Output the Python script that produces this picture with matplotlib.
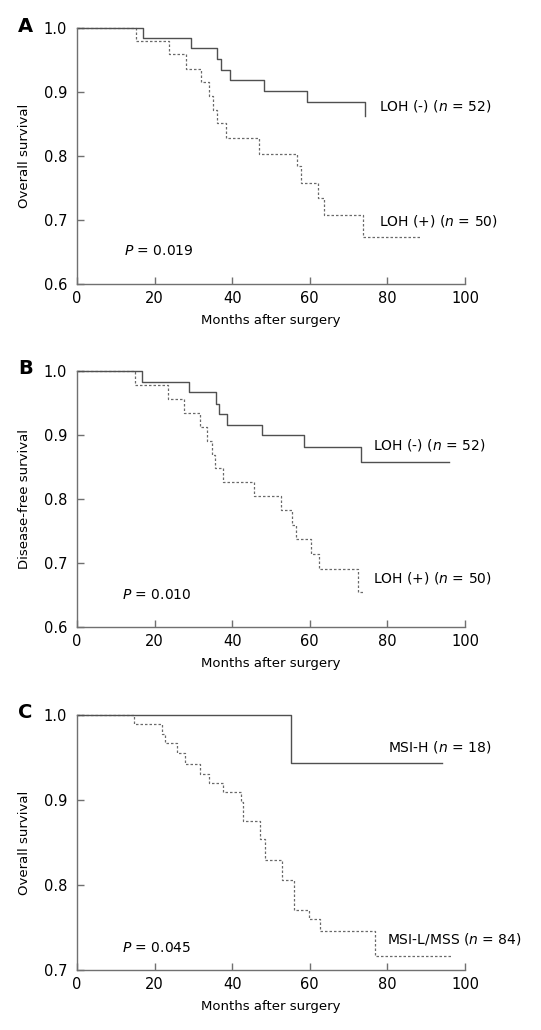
import matplotlib
matplotlib.use("Agg")
import matplotlib.pyplot as plt

# ---- data ----
A_neg_t = [0, 16.9, 29.3, 36.2, 37.2, 39.4, 48.2, 59.2, 74.2]
A_neg_s = [1.0, 0.985, 0.968, 0.951, 0.935, 0.918, 0.902, 0.884, 0.862]
A_pos_t = [0, 15.2, 23.6, 28.1, 31.9, 34.0, 35.0, 36.1, 38.3, 46.9, 56.6, 57.7, 62.0, 63.7, 73.8, 88.7]
A_pos_s = [1.0, 0.98, 0.959, 0.936, 0.915, 0.893, 0.872, 0.851, 0.828, 0.803, 0.784, 0.758, 0.734, 0.708, 0.674, 0.674]

B_neg_t = [0, 16.7, 28.9, 35.7, 36.5, 38.6, 47.6, 58.6, 73.3, 96.0]
B_neg_s = [1.0, 0.983, 0.967, 0.949, 0.933, 0.916, 0.9, 0.881, 0.858, 0.858]
B_pos_t = [0, 15.0, 23.4, 27.7, 31.6, 33.4, 34.7, 35.6, 37.5, 45.5, 52.5, 55.5, 56.4, 60.2, 62.4, 72.3, 73.9]
B_pos_s = [1.0, 0.978, 0.956, 0.934, 0.912, 0.891, 0.869, 0.849, 0.827, 0.805, 0.783, 0.76, 0.737, 0.714, 0.69, 0.655, 0.655]

C_h_t = [0, 55.1, 94.0]
C_h_s = [1.0, 0.944, 0.944]
C_l_t = [0, 14.8, 21.8, 22.7, 25.7, 27.9, 31.8, 33.9, 37.7, 42.2, 42.9, 47.1, 48.5, 52.8, 55.8, 59.9, 62.7, 76.8, 96.6]
C_l_s = [1.0, 0.989, 0.978, 0.967, 0.955, 0.942, 0.931, 0.920, 0.909, 0.898, 0.875, 0.854, 0.830, 0.806, 0.771, 0.760, 0.746, 0.717, 0.717]

panel_letters = ["A", "B", "C"]
ylabels = ["Overall survival", "Disease-free survival", "Overall survival"]
xlabel = "Months after surgery"
xticks = [0, 20, 40, 60, 80, 100]
yticks_AB = [0.6, 0.7, 0.8, 0.9, 1.0]
yticks_C = [0.7, 0.8, 0.9, 1.0]
labels_A = [r"LOH (-) ($n$ = 52)", r"LOH (+) ($n$ = 50)", r"$P$ = 0.019"]
labels_B = [r"LOH (-) ($n$ = 52)", r"LOH (+) ($n$ = 50)", r"$P$ = 0.010"]
labels_C = [r"MSI-H ($n$ = 18)", r"MSI-L/MSS ($n$ = 84)", r"$P$ = 0.045"]

plt.rcParams['font.family'] = ['DejaVu Sans']
plt.rcParams['mathtext.fontset'] = 'dejavusans'

W, H = 541, 1030
fig = plt.figure(figsize=(W / 100, H / 100), dpi=100)

spine_col = '#707070'
solid_col = '#505050'
dot_col = '#6a6a6a'

def make_axes(top_px, bottom_px):
    left = 77 / W
    width = (465 - 77) / W
    return fig.add_axes([left, 1 - bottom_px / H, width, (bottom_px - top_px) / H])

axA = make_axes(28, 284)
axB = make_axes(371, 627)
axC = make_axes(715, 970)

panels = [
    (axA, A_neg_t, A_neg_s, A_pos_t, A_pos_s, (0.6, 1.0), yticks_AB, labels_A,
     [(77.8, 0.878), (77.8, 0.699), (12.0, 0.652)], 26),
    (axB, B_neg_t, B_neg_s, B_pos_t, B_pos_s, (0.6, 1.0), yticks_AB, labels_B,
     [(76.3, 0.885), (76.3, 0.676), (11.7, 0.650)], 369),
    (axC, C_h_t, C_h_s, C_l_t, C_l_s, (0.7, 1.0), yticks_C, labels_C,
     [(80.1, 0.962), (79.9, 0.736), (11.7, 0.726)], 713),
]

for i, (ax, t1, s1, t2, s2, ylim, yt, labs, pos, letter_y) in enumerate(panels):
    ax.step(t2, s2, where='post', color=dot_col, lw=0.9, linestyle=(0, (2.0, 1.6)), clip_on=False)
    ax.step(t1, s1, where='post', color=solid_col, lw=1.0, clip_on=False)
    ax.set_xlim(0, 100)
    ax.set_ylim(*ylim)
    ax.set_xticks(xticks)
    ax.set_yticks(yt)
    ax.set_yticklabels([f"{v:.1f}" for v in yt])
    for sp in ['top', 'right']:
        ax.spines[sp].set_visible(False)
    for sp in ['left', 'bottom']:
        ax.spines[sp].set_color(spine_col)
        ax.spines[sp].set_linewidth(1.0)
    ax.tick_params(direction='in', length=5, width=1.0, color=spine_col, labelsize=10.5,
                   labelcolor='black')
    ax.tick_params(axis='x', pad=5)
    ax.tick_params(axis='y', pad=7)
    ax.set_xlabel(xlabel, fontsize=9.5, labelpad=6)
    ax.set_ylabel(ylabels[i], fontsize=9.5, labelpad=9)
    for txt, (x, y) in zip(labs, pos):
        ax.text(x, y, txt, fontsize=10, ha='left', va='center')
    fig.text(18 / W, 1 - letter_y / H, panel_letters[i], fontsize=14,
             fontweight='bold', ha='left', va='center')

fig.savefig("out.png", dpi=100)
